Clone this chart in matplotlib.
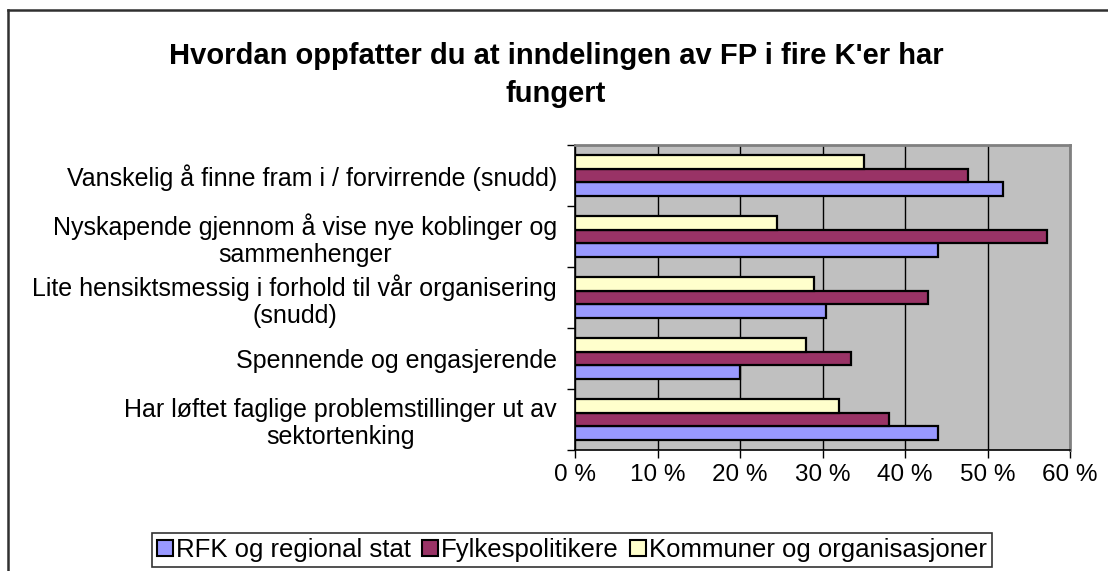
import matplotlib
matplotlib.use("Agg")
import matplotlib.pyplot as plt
from matplotlib.lines import Line2D
from matplotlib.patches import Patch
import numpy as np

plt.rcParams['font.family'] = ['Liberation Sans', 'DejaVu Sans']

title = "Hvordan oppfatter du at inndelingen av FP i fire K'er har\nfungert"
categories = [
    "Har løftet faglige problemstillinger ut av\nsektortenking",
    "Spennende og engasjerende",
    "Lite hensiktsmessig i forhold til vår organisering\n(snudd)",
    "Nyskapende gjennom å vise nye koblinger og\nsammenhenger",
    "Vanskelig å finne fram i / forvirrende (snudd)",
]
series_names = ["RFK og regional stat", "Fylkespolitikere", "Kommuner og organisasjoner"]
rfk = [44.0, 20.0, 30.4, 44.0, 51.9]
fylke = [38.1, 33.4, 42.8, 57.2, 47.6]
kommuner = [32.0, 28.0, 29.0, 24.5, 35.0]
xticks = [0, 10, 20, 30, 40, 50, 60]
colors = ["#9999FF", "#993366", "#FFFFCC"]

W, H = 1108, 571
fig = plt.figure(figsize=(W / 100, H / 100), dpi=100)

# outer chart border (cropped at right/bottom)
fig.add_artist(Line2D([8 / W, 8 / W], [1 - 10 / H, 0], color="#303030", lw=1.8,
                      transform=fig.transFigure))
fig.add_artist(Line2D([8 / W, 1], [1 - 10 / H, 1 - 10 / H], color="#303030", lw=1.8,
                      transform=fig.transFigure))

ax = fig.add_axes([575 / W, 1 - 450 / H, (1070 - 575) / W, (450 - 145) / H])
ax.set_facecolor("#C0C0C0")

y = np.arange(len(categories))
h = 0.228
for vals, off, c, name in zip([rfk, fylke, kommuner], [-h, 0, h], colors, series_names):
    ax.barh(y + off, vals, height=h, color=c, edgecolor="black", linewidth=1.6,
            label=name, zorder=3)

ax.set_xlim(0, 60)
ax.set_ylim(-0.5, len(categories) - 0.5)
ax.set_xticks(xticks)
ax.set_xticklabels([f"{v} %" for v in xticks], fontsize=17.5)
ax.set_yticks(y)
ax.set_yticklabels(categories, fontsize=18, multialignment="center", linespacing=1.15)
ax.set_yticks(np.arange(-0.5, len(categories), 1), minor=True)
ax.tick_params(axis="y", which="major", length=0, pad=13)
ax.tick_params(axis="y", which="minor", length=6, width=1, direction="out")
ax.tick_params(axis="x", length=6, width=1, direction="out", pad=4)
ax.xaxis.grid(True, color="black", lw=1.0, zorder=1)
ax.set_axisbelow(True)
for s in ["top", "right"]:
    ax.spines[s].set_color("#808080")
    ax.spines[s].set_linewidth(2)
for s in ["left", "bottom"]:
    ax.spines[s].set_color("black")
    ax.spines[s].set_linewidth(1.2)

fig.text(556 / W, 1 - 75 / H, title, ha="center", va="center", fontsize=21,
         fontweight="bold", linespacing=1.45)

handles = [Patch(facecolor=c, edgecolor="black", linewidth=1.5) for c in colors]
leg = fig.legend(handles, series_names, loc="center", bbox_to_anchor=(572 / W, 1 - 550 / H),
                 ncol=3, fontsize=18.5, frameon=True, fancybox=False, edgecolor="black",
                 handlelength=0.6, handleheight=0.6, handletextpad=0.12, columnspacing=0.45,
                 borderpad=0.2, borderaxespad=0)
leg.get_frame().set_linewidth(1.2)

fig.savefig("out.png", dpi=100)
